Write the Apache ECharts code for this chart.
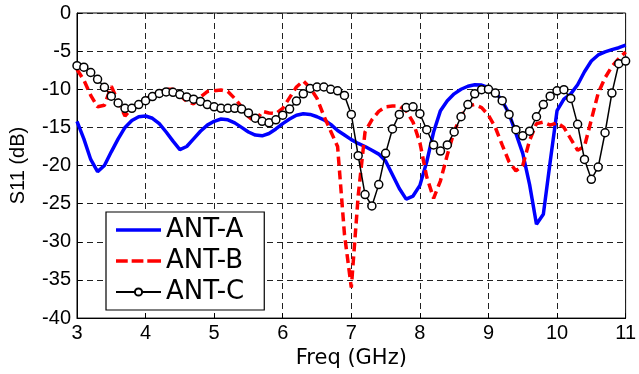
<!DOCTYPE html>
<html>
<head>
<meta charset="utf-8">
<script src="https://cdn.jsdelivr.net/npm/echarts@6/dist/echarts.min.js"></script>
<style>
html,body{margin:0;padding:0;background:#fff;}
#chart{width:639px;height:374px;}
</style>
</head>
<body>
<div id="chart"></div>
<script>
// Frequency samples (GHz), 0.1 GHz step
const freq = [];
for (let i = 0; i <= 80; i++) freq.push(+(3 + i * 0.1).toFixed(1));

const antA = [
 -14.2,-16.5,-19.2,-20.8,-20.0,-18.2,-16.5,-15.0,-14.1,-13.6,
 -13.5,-13.8,-14.5,-15.6,-16.8,-17.9,-17.5,-16.5,-15.5,-14.7,
 -14.2,-13.9,-14.0,-14.4,-15.0,-15.6,-16.0,-16.1,-15.8,-15.2,
 -14.5,-13.9,-13.4,-13.2,-13.3,-13.6,-14.0,-14.6,-15.4,-16.0,
 -16.6,-17.1,-17.5,-18.0,-18.5,-19.4,-21.2,-23.0,-24.4,-24.0,
 -22.6,-19.5,-15.6,-12.8,-11.5,-10.6,-10.0,-9.6,-9.4,-9.45,
 -9.8,-10.4,-11.5,-13.2,-15.8,-18.4,-22.5,-27.7,-26.4,-19.5,
 -12.8,-11.3,-10.6,-9.4,-7.7,-6.3,-5.5,-5.1,-4.8,-4.55,
 -4.2
];
const antB = [
 -7.4,-8.8,-10.8,-12.3,-12.1,-9.6,-11.6,-13.5,-12.5,-11.9,
 -11.3,-10.8,-10.4,-10.0,-10.0,-10.8,-11.6,-11.9,-11.0,-10.3,
 -10.2,-10.1,-10.3,-11.2,-12.3,-13.6,-14.3,-12.9,-13.1,-13.2,
 -12.5,-11.1,-9.7,-8.9,-9.8,-11.2,-13.5,-15.5,-17.5,-29.0,
 -36.0,-24.0,-15.6,-14.0,-12.9,-12.3,-12.2,-12.2,-12.8,-14.3,
 -17.0,-21.5,-24.3,-22.0,-18.6,-15.5,-13.5,-12.2,-12.0,-12.4,
 -13.4,-15.0,-17.3,-19.5,-20.7,-20.0,-16.7,-14.5,-14.3,-14.7,
 -14.4,-15.0,-16.5,-18.0,-17.5,-14.0,-10.5,-8.5,-7.0,-6.0,
 -5.1
];
const antC = [
 -6.9,-7.1,-7.8,-8.7,-9.75,-10.9,-11.8,-12.5,-12.5,-12.0,
 -11.5,-10.95,-10.55,-10.35,-10.4,-10.7,-11.0,-11.3,-11.6,-12.0,
 -12.3,-12.5,-12.5,-12.5,-12.6,-13.1,-13.8,-14.2,-14.4,-14.0,
 -13.4,-12.6,-11.55,-10.6,-9.9,-9.7,-9.7,-10.0,-10.2,-10.8,
 -13.3,-18.7,-23.8,-25.3,-22.5,-18.4,-15.2,-13.3,-12.4,-12.3,
 -13.2,-15.3,-17.3,-18.1,-17.3,-15.6,-13.6,-12.0,-10.6,-10.06,
 -10.0,-10.5,-11.5,-13.3,-15.3,-16.1,-15.5,-13.6,-12.0,-10.9,
 -10.2,-10.06,-11.2,-14.6,-19.2,-21.8,-20.2,-15.7,-10.5,-6.65,
 -6.3
];
const seriesNames = ['ANT-A', 'ANT-B', 'ANT-C'];
const xTicks = [3, 4, 5, 6, 7, 8, 9, 10, 11];
const yTicks = [-40, -35, -30, -25, -20, -15, -10, -5, 0];

const pairs = arr => freq.map((f, i) => [f, arr[i]]);
const font = "'Liberation Sans', Arial, Helvetica, sans-serif";
const wideFont = "'DejaVu Sans', 'Liberation Sans', Arial, sans-serif";
const gridLine = { show: true, lineStyle: { color: '#222', width: 1, type: [6, 4] } };

const chart = echarts.init(document.getElementById('chart'), null, { renderer: 'canvas' });
chart.setOption({
  backgroundColor: '#fff',
  animation: false,
  grid: { left: 77, right: 9, top: 13, bottom: 48, show: true, borderColor: '#000', borderWidth: 1, backgroundColor: 'transparent' },
  xAxis: {
    type: 'value', min: xTicks[0], max: xTicks[xTicks.length - 1], interval: 1,
    name: 'Freq (GHz)', nameLocation: 'middle', nameGap: 22,
    nameTextStyle: { color: '#000', fontSize: 21, fontFamily: wideFont },
    axisLine: { onZero: false, lineStyle: { color: '#000', width: 1 } },
    axisTick: { inside: true, length: 5, lineStyle: { color: '#000' } },
    axisLabel: { color: '#000', fontSize: 20, fontFamily: font, margin: 5 },
    splitLine: gridLine
  },
  yAxis: {
    type: 'value', min: yTicks[0], max: yTicks[yTicks.length - 1], interval: 5,
    name: 'S11 (dB)', nameLocation: 'middle', nameGap: 49,
    nameTextStyle: { color: '#000', fontSize: 20, fontFamily: font },
    axisLine: { show: true, lineStyle: { color: '#000', width: 1 } },
    axisTick: { show: true, inside: true, length: 5, lineStyle: { color: '#000' } },
    axisLabel: { color: '#000', fontSize: 20, fontFamily: font, margin: 6 },
    splitLine: gridLine
  },
  legend: {
    orient: 'vertical', left: 106, top: 212,
    backgroundColor: '#fff', borderColor: '#000', borderWidth: 1.2,
    padding: [5, 20, 5, 9], itemGap: 5, itemWidth: 45, itemHeight: 9,
    textStyle: { color: '#000', fontSize: 26, fontFamily: wideFont },
    data: [
      { name: seriesNames[0], icon: 'path://M0,0h46v3.5h-46z', itemStyle: { color: '#0000ff', borderWidth: 0 } },
      { name: seriesNames[1], icon: 'path://M0,0h12v3.5h-12z M16,0h12v3.5h-12z M32,0h14v3.5h-14z', itemStyle: { color: '#ff0000', borderWidth: 0 } },
      { name: seriesNames[2] }
    ]
  },
  series: [
    { name: seriesNames[0], type: 'line', data: pairs(antA), showSymbol: false, symbol: 'none',
      lineStyle: { color: '#0000ff', width: 3.5 }, itemStyle: { color: '#0000ff' } },
    { name: seriesNames[1], type: 'line', data: pairs(antB), showSymbol: false, symbol: 'none',
      lineStyle: { color: '#ff0000', width: 3.5, type: [9, 5] }, itemStyle: { color: '#ff0000' } },
    { name: seriesNames[2], type: 'line', data: pairs(antC), symbol: 'circle', symbolSize: 8,
      lineStyle: { color: '#000', width: 1.5 },
      itemStyle: { color: '#fff', borderColor: '#000', borderWidth: 1.5 } }
  ]
});
</script>
</body>
</html>
